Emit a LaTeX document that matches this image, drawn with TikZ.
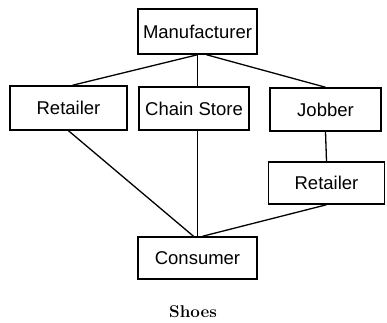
\documentclass[tikz,border=0pt]{standalone}
\usepackage{fontspec}
\newfontfamily\boxfont{Liberation Sans}
\begin{document}
\begin{tikzpicture}[x=1pt,y=-1pt,
  box/.style={draw=black,line width=1.5pt,rectangle,inner sep=0pt,
    font=\boxfont\fontsize{18.5}{20}\selectfont},
  link/.style={draw=black,line width=1.3pt}]
\useasboundingbox (0,0) rectangle (387,322);
% boxes
\node[box,minimum width=119pt,minimum height=45pt] (mf) at (197.5,31.5) {Manufacturer};
\node[box,minimum width=117pt,minimum height=44pt] (r1) at (68.5,108) {Retailer};
\node[box,minimum width=110pt,minimum height=43pt] (cs) at (194,108.5) {Chain Store};
\node[box,minimum width=111pt,minimum height=43pt] (jb) at (325.5,109.5) {Jobber};
\node[box,minimum width=116pt,minimum height=42pt] (r2) at (326.5,183) {Retailer};
\node[box,minimum width=119pt,minimum height=42pt] (cons) at (197.5,258) {Consumer};
\node[font=\fontsize{17}{19}\selectfont\bfseries] (cap) at (193,312) {Shoes};
% connectors
\draw[link] (mf.south) -- ([xshift=4pt]r1.north);
\draw[link] (mf.south) -- (mf.south |- cs.north);
\draw[link] ([xshift=9pt]mf.south) -- (jb.north);
\draw[link] (r1.south) -- ([xshift=-4pt]cons.north);
\draw[link] (cons.north |- cs.south) -- (cons.north);
\draw[link] (jb.south) -- (r2.north);
\draw[link] (r2.south) -- ([xshift=5pt]cons.north);
\end{tikzpicture}
\end{document}
